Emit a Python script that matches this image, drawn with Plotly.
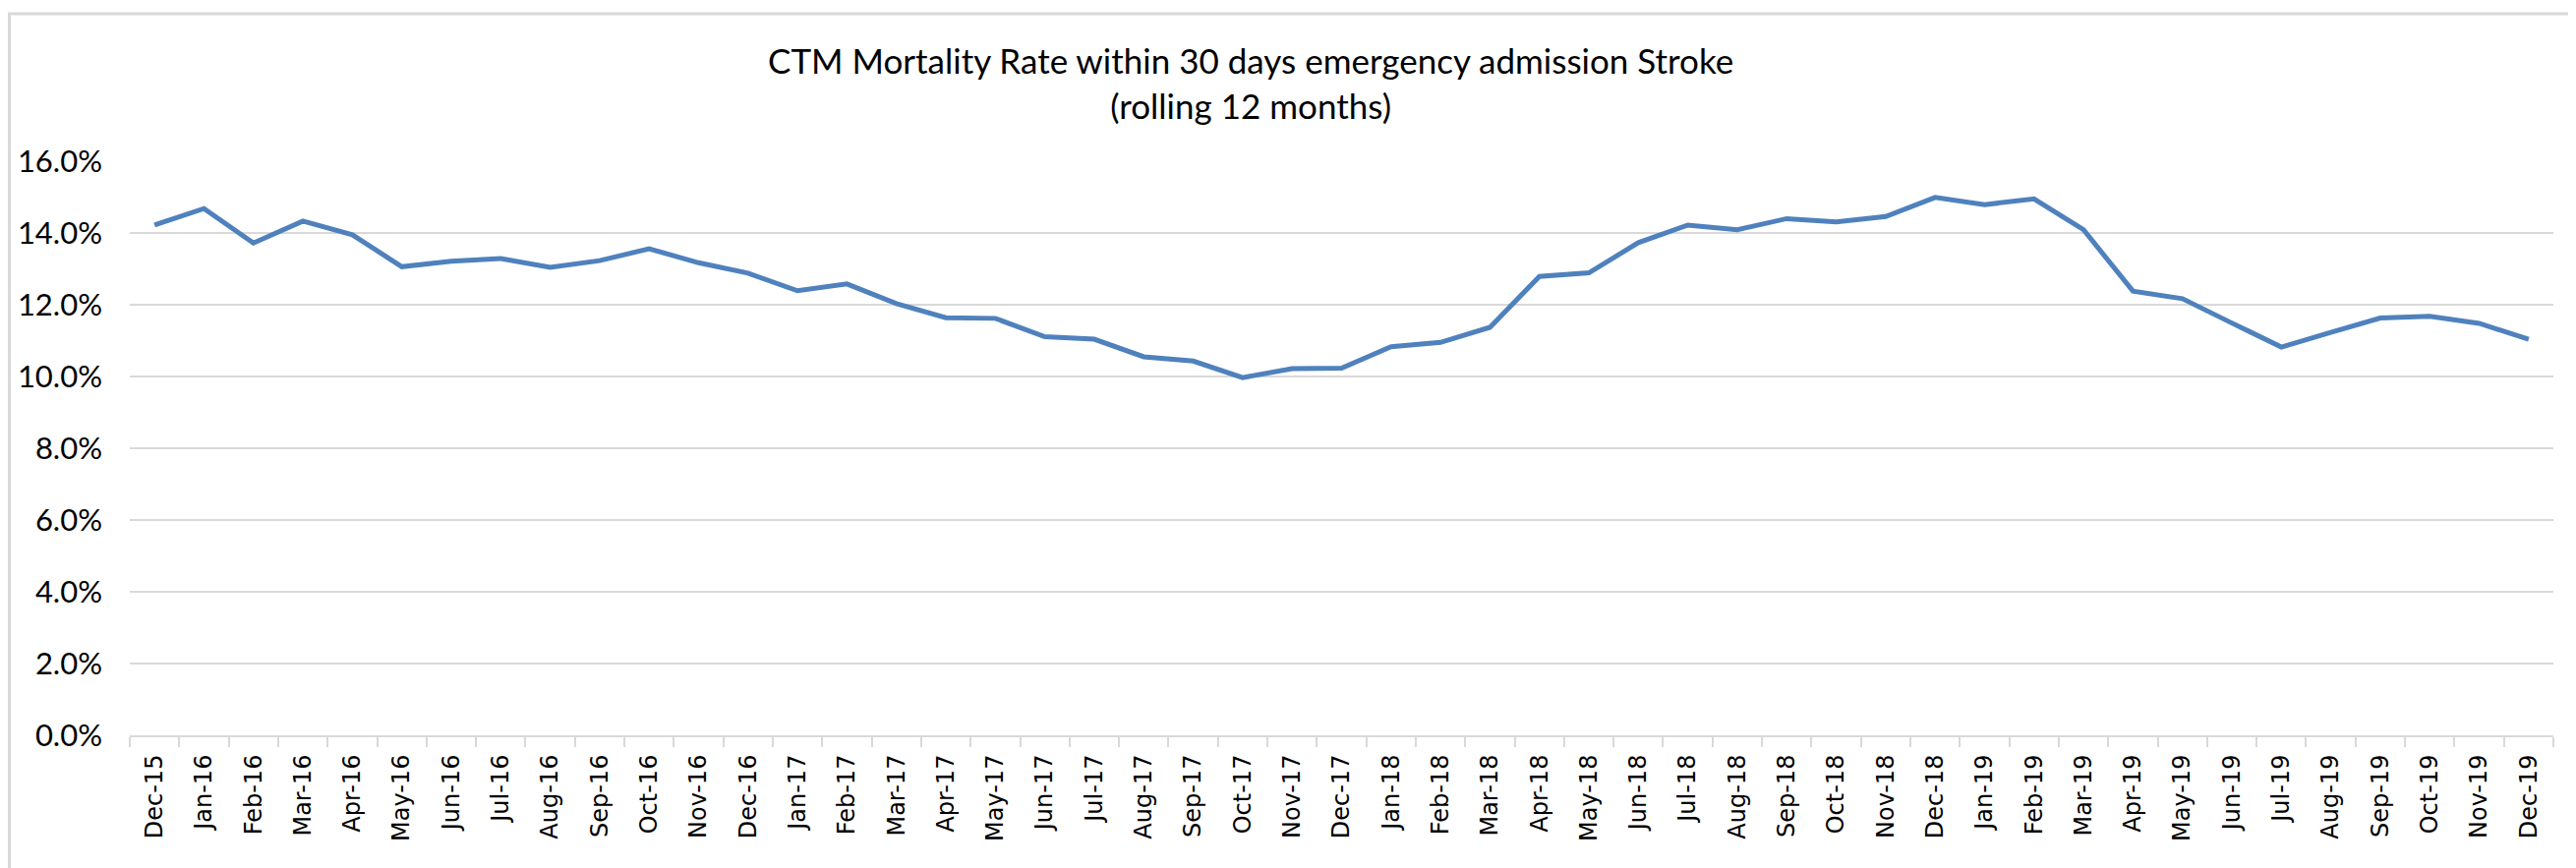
import plotly.graph_objects as go

months = ["Dec-15", "Jan-16", "Feb-16", "Mar-16", "Apr-16", "May-16", "Jun-16", "Jul-16",
          "Aug-16", "Sep-16", "Oct-16", "Nov-16", "Dec-16", "Jan-17", "Feb-17", "Mar-17",
          "Apr-17", "May-17", "Jun-17", "Jul-17", "Aug-17", "Sep-17", "Oct-17", "Nov-17",
          "Dec-17", "Jan-18", "Feb-18", "Mar-18", "Apr-18", "May-18", "Jun-18", "Jul-18",
          "Aug-18", "Sep-18", "Oct-18", "Nov-18", "Dec-18", "Jan-19", "Feb-19", "Mar-19",
          "Apr-19", "May-19", "Jun-19", "Jul-19", "Aug-19", "Sep-19", "Oct-19", "Nov-19",
          "Dec-19"]

mortality_rate = [0.1422, 0.1468, 0.1372, 0.1433, 0.1395, 0.1306, 0.1321, 0.1329,
                  0.1304, 0.1323, 0.1356, 0.1317, 0.1288, 0.1239, 0.1258, 0.1203,
                  0.1164, 0.1162, 0.1111, 0.1104, 0.1055, 0.1043, 0.0997, 0.1022,
                  0.1023, 0.1083, 0.1095, 0.1137, 0.1279, 0.1289, 0.1373, 0.1422,
                  0.1409, 0.1440, 0.1431, 0.1446, 0.1499, 0.1479, 0.1495, 0.1409,
                  0.1238, 0.1217, 0.1149, 0.1082, 0.1123, 0.1163, 0.1168, 0.1148,
                  0.1104]

y_ticks = [0.0, 0.02, 0.04, 0.06, 0.08, 0.10, 0.12, 0.14, 0.16]

title_text = "CTM Mortality Rate within 30 days emergency admission Stroke<br>(rolling 12 months)"

# page body has an 8px margin, so the figure is sized/offset to compensate
W, H = 2612, 875
L, T = 124, 156
pw, ph = 2465, 584
R, B = W - L - pw, H - T - ph

fig = go.Figure()
fig.add_trace(go.Scatter(
    x=months, y=mortality_rate, mode="lines",
    line=dict(color="#4F81BD", width=5),
    showlegend=False,
))

fig.update_layout(
    width=W, height=H,
    margin=dict(l=L, r=R, t=T, b=B, autoexpand=False),
    paper_bgcolor="white", plot_bgcolor="white",
    font=dict(family="Lato, Open Sans, sans-serif", color="black"),
    showlegend=False,
)

fig.update_xaxes(
    type="category",
    tickangle=-90,
    tickfont=dict(family="DejaVu Sans", size=24, color="black"),
    showgrid=False,
    showline=True, linecolor="#D9D9D9", linewidth=2,
    ticks="outside", ticklen=10, tickcolor="#D9D9D9", tickwidth=2,
    tickson="boundaries",
    ticklabelstandoff=8,
    range=[-0.5, len(months) - 0.5],
    automargin=False,
)

fig.update_yaxes(
    range=[0, 0.16],
    tickvals=y_ticks,
    tickformat=".1%",
    tickfont=dict(family="Lato, Open Sans, sans-serif", size=31, color="black"),
    showgrid=True, gridcolor="#D9D9D9", gridwidth=2,
    zeroline=False,
    showline=False,
    ticks="",
    ticklabelstandoff=27,
    automargin=False,
)

# Title (two lines), centred a little left of the plot centre as in the reference
fig.add_annotation(
    text=title_text, xref="paper", yref="paper",
    x=(1264 - L) / pw, y=(T + ph - 76) / ph, xanchor="center", yanchor="middle",
    showarrow=False, align="center",
    font=dict(family="Lato, Open Sans, sans-serif", size=35, color="black"),
)

# Chart border (top & left visible)
fig.add_shape(
    type="rect", xref="paper", yref="paper",
    x0=(1.5 - L) / pw, x1=(W + 20 - L) / pw,
    y0=(T + ph - (H + 20)) / ph, y1=(T + ph - 6) / ph,
    line=dict(color="#D9D9D9", width=3), fillcolor="rgba(0,0,0,0)", layer="below",
)

fig.write_html("out.html")
